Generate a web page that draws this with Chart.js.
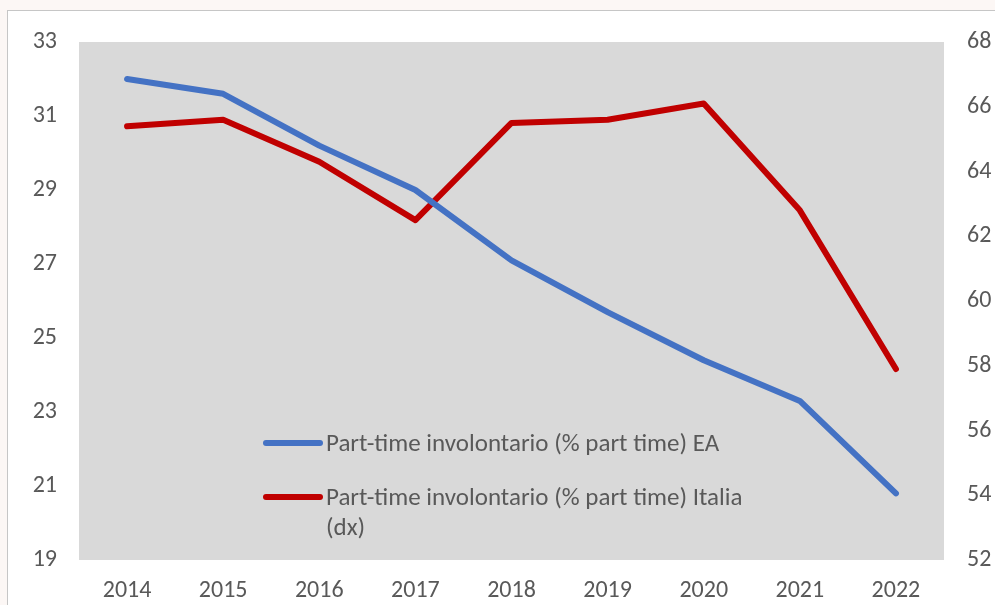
<!DOCTYPE html>
<html>
<head>
<meta charset="utf-8">
<script src="https://cdn.jsdelivr.net/npm/chart.js@4"></script>
<style>
  html, body { margin: 0; padding: 0; }
  body { width: 995px; height: 605px; background: #fcf7f5; overflow: hidden; position: relative; }
  #box { position: absolute; left: 7px; top: 10px; width: 988px; height: 595px; background: #fff;
         border-left: 1px solid #c6c6c6; border-top: 1px solid #c6c6c6; }
  #chart { display: block; }
  #legend { position: absolute; left: 255px; top: 417px; font-family: Carlito, "Liberation Sans Narrow", "Open Sans", sans-serif;
            font-size: 25px; color: #595959; }
  .item { display: flex; align-items: flex-start; margin-bottom: 24px; }
  .swatch { width: 60px; height: 6px; border-radius: 3px; margin-top: 12px; margin-right: 3px; flex: none; }
  .txt { width: 430px; line-height: 30px; }
</style>
</head>
<body>
<div id="box">
  <canvas id="chart" width="987" height="594"></canvas>
  <div id="legend"></div>
</div>
<script>
const years = ['2014', '2015', '2016', '2017', '2018', '2019', '2020', '2021', '2022'];
const eaValues = [32.0, 31.6, 30.2, 29.0, 27.1, 25.7, 24.4, 23.3, 20.8];
const italiaValues = [65.4, 65.6, 64.3, 62.5, 65.5, 65.6, 66.1, 62.8, 57.9];
const seriesNames = ['Part-time involontario (% part time) EA', 'Part-time involontario (% part time) Italia (dx)'];
const seriesColors = ['#4472c4', '#c00000'];

// sfondo grigio dell'area del grafico
const plotBg = {
    id: 'plotBg',
    beforeDraw(chart) {
        const a = chart.chartArea;
        const ctx = chart.ctx;
        ctx.save();
        ctx.fillStyle = '#d9d9d9';
        ctx.fillRect(a.left, a.top, a.right - a.left, a.bottom - a.top);
        ctx.restore();
    }
};

const tickFont = { family: 'Carlito, "Liberation Sans Narrow", "Open Sans", sans-serif', size: 24 };

function fitY(width) {
    return axis => {
        axis.width = width;
        axis.paddingTop = 0;
        axis.paddingBottom = 0;
    };
}

new Chart(document.getElementById('chart').getContext('2d'), {
    type: 'line',
    data: {
        labels: years,
        datasets: [{
            label: seriesNames[0],
            data: eaValues,
            borderColor: seriesColors[0],
            borderWidth: 6,
            pointRadius: 0,
            yAxisID: 'y',
            borderCapStyle: 'round',
            borderJoinStyle: 'round',
        }, {
            label: seriesNames[1],
            data: italiaValues,
            borderColor: seriesColors[1],
            borderWidth: 6,
            pointRadius: 0,
            yAxisID: 'y1',
            borderCapStyle: 'round',
            borderJoinStyle: 'round',
        }],
    },
    options: {
        responsive: false,
        animation: false,
        layout: { padding: { top: 31, right: 0, left: 0, bottom: 0 } },
        plugins: { legend: { display: false }, tooltip: { enabled: false } },
        scales: {
            x: {
                offset: true,
                grid: { display: false, drawTicks: false },
                border: { display: false },
                ticks: { color: '#595959', font: tickFont, padding: 17, maxRotation: 0 },
                afterFit: axis => { axis.height = 45; axis.paddingLeft = 0; axis.paddingRight = 0; },
            },
            y: {
                position: 'left',
                min: 19, max: 33,
                grid: { display: false, drawTicks: false },
                border: { display: false },
                ticks: { stepSize: 2, color: '#595959', font: tickFont, padding: 22 },
                afterFit: fitY(71),
            },
            y1: {
                position: 'right',
                min: 52, max: 68,
                grid: { display: false, drawTicks: false },
                border: { display: false },
                ticks: { stepSize: 2, color: '#595959', font: tickFont, padding: 23 },
                afterFit: fitY(51),
            },
        },
    },
    plugins: [plotBg],
});

// legenda costruita a mano per permettere il testo su due righe
const legend = document.getElementById('legend');
seriesNames.forEach((name, i) => {
    const item = document.createElement('div');
    item.className = 'item';
    const sw = document.createElement('div');
    sw.className = 'swatch';
    sw.style.background = seriesColors[i];
    const txt = document.createElement('div');
    txt.className = 'txt';
    txt.textContent = name;
    item.appendChild(sw);
    item.appendChild(txt);
    legend.appendChild(item);
});
</script>
</body>
</html>
